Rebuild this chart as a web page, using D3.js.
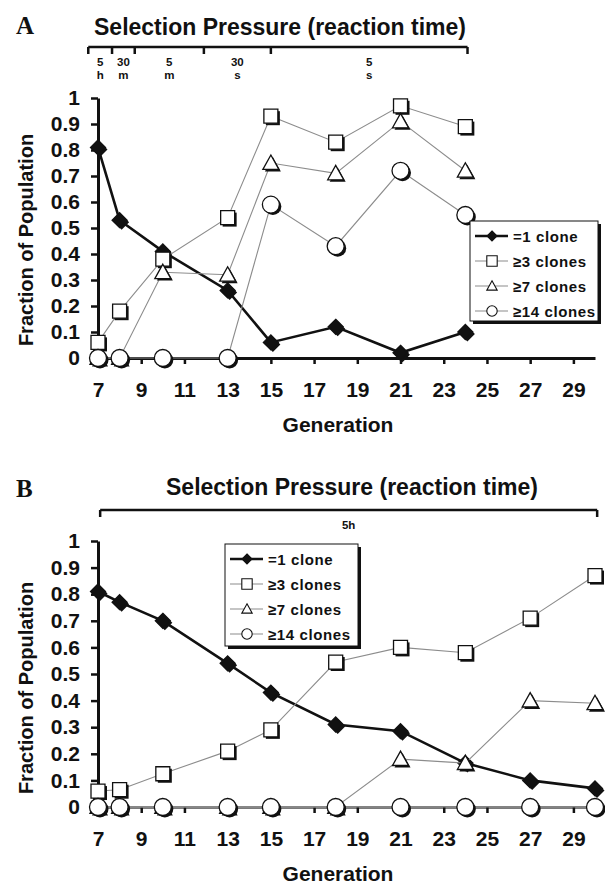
<!DOCTYPE html>
<html>
<head>
<meta charset="utf-8">
<script src="https://cdn.jsdelivr.net/npm/d3@7"></script>
<style>
  body { margin: 0; background: #fff; }
  text { font-family: "Liberation Sans", Arial, sans-serif; font-weight: bold; fill: #111; }
</style>
</head>
<body>
<svg id="fig" width="605" height="887"></svg>
<script>
'use strict';

// ---- data ----
const seriesNames = ["=1 clone", "\u22653 clones", "\u22657 clones", "\u226514 clones"];
const seriesShapes = ["diamond", "square", "triangle", "circle"];
const yTicks = [0, 0.1, 0.2, 0.3, 0.4, 0.5, 0.6, 0.7, 0.8, 0.9, 1];
const yTickLabels = ["0", "0.1", "0.2", "0.3", "0.4", "0.5", "0.6", "0.7", "0.8", "0.9", "1"];
const xTicks = [7, 9, 11, 13, 15, 17, 19, 21, 23, 25, 27, 29];

// panel A
const genA    = [7, 8, 10, 13, 15, 18, 21, 24];
const oneA    = [0.81, 0.53, 0.41, 0.26, 0.06, 0.12, 0.02, 0.10];
const three_A = [0.06, 0.18, 0.38, 0.54, 0.93, 0.83, 0.97, 0.89];
const seven_A = [0, 0, 0.33, 0.32, 0.75, 0.71, 0.91, 0.72];
const fourteenA = [0, 0, 0, 0, 0.59, 0.43, 0.72, 0.55];
// selection pressure brackets (in generations) and labels
const pressureEdgesA  = [6.55, 7.65, 8.7, 11.9, 15.0, 24.1];
const pressureLabelsA = [["5", "h"], ["30", "m"], ["5", "m"], ["30", "s"], ["5", "s"]];

// panel B
const genB    = [7, 8, 10, 13, 15, 18, 21, 24, 27, 30];
const oneB    = [0.81, 0.77, 0.70, 0.54, 0.43, 0.31, 0.285, 0.165, 0.10, 0.07];
const three_B = [0.06, 0.065, 0.125, 0.21, 0.29, 0.545, 0.60, 0.58, 0.71, 0.87];
const seven_B = [0, 0, 0, 0, 0, 0, 0.18, 0.165, 0.40, 0.39];
const fourteenB = [0, 0, 0, 0, 0, 0, 0, 0, 0, 0];
const pressureEdgesB  = [7.1, 30.1];
const pressureLabelsB = [["5h"]];

const svg = d3.select("#fig");

function markerPath(shape, s) {
  // s = half size
  const p = d3.path();
  if (shape === "diamond") {
    p.moveTo(0, -s); p.lineTo(s, 0); p.lineTo(0, s); p.lineTo(-s, 0); p.closePath();
  } else if (shape === "square") {
    p.rect(-s, -s, 2 * s, 2 * s);
  } else if (shape === "triangle") {
    p.moveTo(0, -s); p.lineTo(s, s * 0.8); p.lineTo(-s, s * 0.8); p.closePath();
  } else {
    p.arc(0, 0, s, 0, 2 * Math.PI);
  }
  return p.toString();
}
const markerSize = {diamond: 7.5, square: 7, triangle: 8, circle: 8.5};

function drawPanel(cfg) {
  const x = d3.scaleLinear().domain([7, 30]).range([98, 595]);
  const y = d3.scaleLinear().domain([0, 1]).range([cfg.y0, cfg.y1]);
  const g = svg.append("g");

  // panel letter
  g.append("text").attr("x", 16).attr("y", cfg.letterY)
    .style("font-family", "'Liberation Serif', 'Times New Roman', serif")
    .style("font-size", "25px").text(cfg.letter);

  // title
  g.append("text").attr("x", cfg.titleX).attr("y", cfg.titleY)
    .attr("text-anchor", "middle").style("font-size", "23px")
    .text("Selection Pressure (reaction time)");

  // bracket for selection pressure
  const edges = cfg.edges;
  const bg = g.append("g").attr("fill", "none").attr("stroke", "#111").attr("stroke-width", 2.5);
  bg.append("line").attr("x1", x(edges[0])).attr("x2", x(edges[edges.length - 1]))
    .attr("y1", cfg.bracketY).attr("y2", cfg.bracketY);
  bg.selectAll("line.tk").data(edges).join("line").attr("class", "tk")
    .attr("x1", d => x(d)).attr("x2", d => x(d))
    .attr("y1", cfg.bracketY).attr("y2", cfg.bracketY + 7);
  cfg.labels.forEach((lab, i) => {
    const cx = (x(edges[i]) + x(edges[i + 1])) / 2;
    lab.forEach((s, j) => {
      g.append("text").attr("x", cx).attr("y", cfg.bracketY + 19 + j * 13)
        .attr("text-anchor", "middle").style("font-size", "11.5px").text(s);
    });
  });

  // axes
  const yAxis = d3.axisLeft(y).tickValues(yTicks).tickFormat((d, i) => yTickLabels[i])
    .tickSizeOuter(0).tickSizeInner(7).tickPadding(11);
  const ya = g.append("g").attr("transform", `translate(${x(7)},0)`).call(yAxis);
  ya.select(".domain").attr("stroke", "#111").attr("stroke-width", 3);
  ya.selectAll(".tick line").attr("stroke", "#111").attr("stroke-width", 2.5);
  ya.selectAll(".tick text").style("font-size", "21px").attr("fill", "#111")
    .style("font-family", "'Liberation Sans', Arial, sans-serif").style("font-weight", "bold");

  const xAxis = d3.axisBottom(x).tickValues(xTicks).tickFormat(d3.format("d"))
    .tickSizeOuter(0).tickSizeInner(6).tickPadding(18);
  const xa = g.append("g").attr("transform", `translate(0,${y(0)})`).call(xAxis);
  xa.select(".domain").attr("stroke", cfg.xAxisColor).attr("stroke-width", 3);
  xa.selectAll(".tick line").attr("stroke", "#111").attr("stroke-width", 2.5);
  xa.selectAll(".tick text").style("font-size", "21px").attr("fill", "#111")
    .style("font-family", "'Liberation Sans', Arial, sans-serif").style("font-weight", "bold");

  // axis titles
  g.append("text").attr("transform", `translate(33,${cfg.yLabelY}) rotate(-90)`)
    .attr("text-anchor", "middle").style("font-size", "20px").text("Fraction of Population");
  g.append("text").attr("x", 338).attr("y", y(0) + cfg.genLabelDy)
    .attr("text-anchor", "middle").style("font-size", "21px").text("Generation");

  // series
  const line = d3.line().x(d => x(d.g)).y(d => y(d.v));
  cfg.series.forEach((vals, si) => {
    const pts = cfg.gens.map((gv, i) => ({g: gv, v: vals[i]}));
    const first = si === 0;
    g.append("path").datum(pts).attr("d", line).attr("fill", "none")
      .attr("stroke", first ? "#111" : "#8c8c8c")
      .attr("stroke-width", first ? 2.6 : 1.1);
    const shape = seriesShapes[si];
    const s = markerSize[shape];
    // shadow
    g.selectAll(null).data(pts).join("path")
      .attr("d", markerPath(shape, s))
      .attr("transform", d => `translate(${x(d.g) + 2},${y(d.v) + 2})`)
      .attr("fill", "#111");
    g.selectAll(null).data(pts).join("path")
      .attr("d", markerPath(shape, s))
      .attr("transform", d => `translate(${x(d.g)},${y(d.v)})`)
      .attr("fill", first ? "#111" : "#fff")
      .attr("stroke", "#111").attr("stroke-width", 1.3);
  });

  // legend
  const L = cfg.legend;
  const lg = g.append("g").attr("transform", `translate(${L.x},${L.y})`);
  lg.append("rect").attr("x", 3).attr("y", 3).attr("width", L.w).attr("height", L.h).attr("fill", "#111");
  lg.append("rect").attr("width", L.w).attr("height", L.h).attr("fill", "#fff")
    .attr("stroke", "#111").attr("stroke-width", 1);
  seriesNames.forEach((name, i) => {
    const ry = 15 + i * 25;
    const first = i === 0;
    lg.append("line").attr("x1", 5).attr("x2", 38).attr("y1", ry).attr("y2", ry)
      .attr("stroke", first ? "#111" : "#8c8c8c").attr("stroke-width", first ? 2.6 : 1.1);
    lg.append("path").attr("d", markerPath(seriesShapes[i], first ? 5 : 5.2))
      .attr("transform", `translate(22,${ry})`)
      .attr("fill", first ? "#111" : "#fff").attr("stroke", "#111").attr("stroke-width", 1.1);
    lg.append("text").attr("x", 43).attr("y", ry + 5.5).style("font-size", "15px")
      .style("letter-spacing", "0.6px").text(name);
  });
}

drawPanel({
  letter: "A", letterY: 34, titleX: 280, titleY: 35,
  bracketY: 47, edges: pressureEdgesA, labels: pressureLabelsA,
  y0: 358, y1: 98, yLabelY: 240, genLabelDy: 74, xAxisColor: "#111",
  gens: genA, series: [oneA, three_A, seven_A, fourteenA],
  legend: {x: 470, y: 221, w: 128, h: 100}
});

drawPanel({
  letter: "B", letterY: 497, titleX: 352, titleY: 495,
  bracketY: 510, edges: pressureEdgesB, labels: pressureLabelsB,
  y0: 807, y1: 541, yLabelY: 688, genLabelDy: 74, xAxisColor: "#7a7a7a",
  gens: genB, series: [oneB, three_B, seven_B, fourteenB],
  legend: {x: 225, y: 544, w: 133, h: 102}
});
</script>
</body>
</html>
